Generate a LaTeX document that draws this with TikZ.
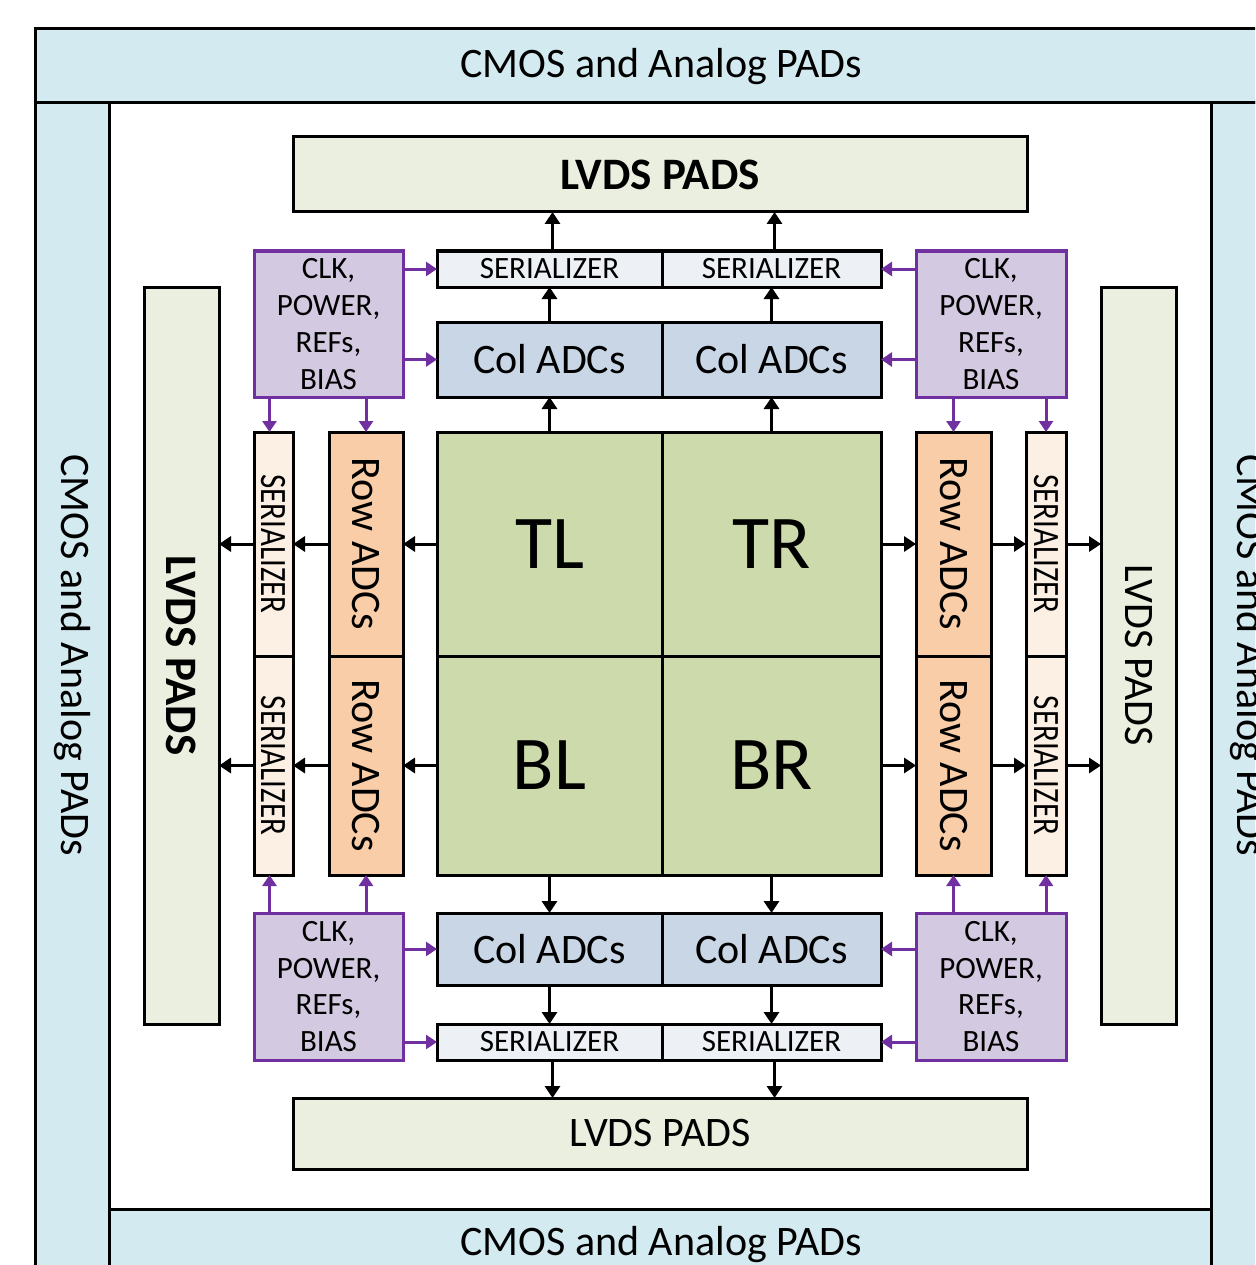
\documentclass[tikz,border=0pt]{standalone}
\usepackage{fontspec}
\setmainfont{Carlito}
\usetikzlibrary{arrows.meta}
\definecolor{cmosblue}{RGB}{210,234,240}
\definecolor{lvdsg}{RGB}{235,239,223}
\definecolor{clkfill}{RGB}{211,201,224}
\definecolor{purp}{RGB}{112,48,160}
\definecolor{serh}{RGB}{237,241,246}
\definecolor{colfill}{RGB}{200,214,229}
\definecolor{corefill}{RGB}{204,218,172}
\definecolor{rowfill}{RGB}{248,205,168}
\definecolor{serv}{RGB}{252,239,228}
\tikzset{
  box/.style={draw=black, line width=3pt, inner sep=0pt, outer sep=0pt, rectangle},
  clkbox/.style={draw=purp, fill=clkfill, line width=3pt, inner sep=0pt, outer sep=0pt, rectangle,
    minimum height=146, align=center, font={\fontsize{31}{36.7}\selectfont}},
  arr/.style={line width=3pt, draw=black, -{Triangle[width=15pt,length=12pt]}},
  parr/.style={line width=3pt, draw=purp, -{Triangle[width=14pt,length=11pt]}},
  f31/.style={font={\fontsize{31}{36}\selectfont}},
  f42/.style={font={\fontsize{42}{50}\selectfont}},
  f45b/.style={font={\fontsize{45}{54}\selectfont\bfseries}},
  f76/.style={font={\fontsize{76}{90}\selectfont}},
  sertxt/.style={font={\fontsize{31}{36}\selectfont}},
}
\newcommand{\vser}{\scalebox{1}[1.2]{SERIALIZER}}
\begin{document}
\begin{tikzpicture}[x=1pt,y=-1pt]
\useasboundingbox (0,0) rectangle (1255,1265);
\clip (0,0) rectangle (1255,1265);
\fill[white] (0,0) rectangle (1255,1265);
% outer CMOS bands
\node[box, fill=cmosblue, minimum width=1255, minimum height=74] (cmosT) at (662.5,66) {};
\node[box, fill=cmosblue, minimum width=74, minimum height=1187] (cmosL) at (72,696.5) {};
\node[box, fill=cmosblue, minimum width=79, minimum height=1187] (cmosR) at (1250.5,696.5) {};
\node[box, fill=cmosblue, minimum width=1102, minimum height=81] (cmosB) at (660,1249.5) {};
\node[f42] (tcmosT) at (661,67) {CMOS and Analog PADs};
\node[f42, rotate=-90] (tcmosL) at (72,655) {CMOS and Analog PADs};
\node[f42, rotate=-90] (tcmosR) at (1248,655) {CMOS and Analog PADs};
\node[f42] (tcmosB) at (661,1245) {CMOS and Analog PADs};
% LVDS pads
\node[box, fill=lvdsg, minimum width=734, minimum height=75, f45b] (lvdsT) at (660,174.5) {LVDS PADS};
\node[box, fill=lvdsg, minimum width=734, minimum height=71, f42] (lvdsB) at (660,1133.5) {LVDS PADS};
\node[box, fill=lvdsg, minimum width=75, minimum height=737,
  label={[f45b, rotate=-90]center:LVDS PADS}] (lvdsL) at (181.5,655.5) {};
\node[box, fill=lvdsg, minimum width=75, minimum height=737,
  label={[f42, rotate=-90]center:LVDS PADS}] (lvdsR) at (1138.5,655.5) {};
% CLK boxes
\node[clkbox, minimum width=149] (clkTL) at (328.5,324) {CLK,\\POWER,\\REFs,\\BIAS};
\node[clkbox, minimum width=150] (clkTR) at (991,324) {CLK,\\POWER,\\REFs,\\BIAS};
\node[clkbox, minimum width=149, minimum height=147] (clkBL) at (328.5,986.5) {CLK,\\POWER,\\REFs,\\BIAS};
\node[clkbox, minimum width=150, minimum height=147] (clkBR) at (991,986.5) {CLK,\\POWER,\\REFs,\\BIAS};
% horizontal serializers
\node[box, fill=serh, minimum width=225, minimum height=36, f31] (serT1) at (549.5,269) {SERIALIZER};
\node[box, fill=serh, minimum width=219, minimum height=36, f31] (serT2) at (771.5,269) {SERIALIZER};
\node[box, fill=serh, minimum width=225, minimum height=36, f31] (serB1) at (549.5,1042) {SERIALIZER};
\node[box, fill=serh, minimum width=219, minimum height=36, f31] (serB2) at (771.5,1042) {SERIALIZER};
% col ADCs
\node[box, fill=colfill, minimum width=225, minimum height=75, f42] (colT1) at (549.5,359.5) {Col ADCs};
\node[box, fill=colfill, minimum width=219, minimum height=75, f42] (colT2) at (771.5,359.5) {Col ADCs};
\node[box, fill=colfill, minimum width=225, minimum height=72, f42] (colB1) at (549.5,949) {Col ADCs};
\node[box, fill=colfill, minimum width=219, minimum height=72, f42] (colB2) at (771.5,949) {Col ADCs};
% core
\node[box, fill=corefill, minimum width=225, minimum height=224, f76] (TL) at (549.5,544) {TL};
\node[box, fill=corefill, minimum width=219, minimum height=224, f76] (TR) at (771.5,544) {TR};
\node[box, fill=corefill, minimum width=225, minimum height=219, f76] (BL) at (549.5,765.5) {BL};
\node[box, fill=corefill, minimum width=219, minimum height=219, f76] (BR) at (771.5,765.5) {BR};
% row ADCs
\node[box, fill=rowfill, minimum width=74, minimum height=224,
  label={[f42, rotate=-90]center:Row ADCs}] (rowL1) at (366,544) {};
\node[box, fill=rowfill, minimum width=74, minimum height=219,
  label={[f42, rotate=-90]center:Row ADCs}] (rowL2) at (366,765.5) {};
\node[box, fill=rowfill, minimum width=75, minimum height=224,
  label={[f42, rotate=-90]center:Row ADCs}] (rowR1) at (953.5,544) {};
\node[box, fill=rowfill, minimum width=75, minimum height=219,
  label={[f42, rotate=-90]center:Row ADCs}] (rowR2) at (953.5,765.5) {};
% vertical serializers
\node[box, fill=serv, minimum width=39, minimum height=224,
  label={[sertxt, rotate=-90]center:\vser}] (serL1) at (273.5,544) {};
\node[box, fill=serv, minimum width=39, minimum height=219,
  label={[sertxt, rotate=-90]center:\vser}] (serL2) at (273.5,765.5) {};
\node[box, fill=serv, minimum width=40, minimum height=224,
  label={[sertxt, rotate=-90]center:\vser}] (serR1) at (1046,544) {};
\node[box, fill=serv, minimum width=40, minimum height=219,
  label={[sertxt, rotate=-90]center:\vser}] (serR2) at (1046,765.5) {};
% black arrows: top
\draw[arr] (TL.north) -- (colT1.south);
\draw[arr] (TR.north) -- (colT2.south);
\draw[arr] (colT1.north) -- (serT1.south);
\draw[arr] (colT2.north) -- (serT2.south);
\coordinate (st1) at ([xshift=3]serT1.north);
\coordinate (st2) at ([xshift=3]serT2.north);
\draw[arr] (st1) -- (st1 |- lvdsT.south);
\draw[arr] (st2) -- (st2 |- lvdsT.south);
% bottom
\draw[arr] (BL.south) -- (colB1.north);
\draw[arr] (BR.south) -- (colB2.north);
\draw[arr] (colB1.south) -- (serB1.north);
\draw[arr] (colB2.south) -- (serB2.north);
\coordinate (sb1) at ([xshift=3]serB1.south);
\coordinate (sb2) at ([xshift=3]serB2.south);
\draw[arr] (sb1) -- (sb1 |- lvdsB.north);
\draw[arr] (sb2) -- (sb2 |- lvdsB.north);
% left
\draw[arr] (TL.west) -- (rowL1.east);
\draw[arr] (BL.west) -- (rowL2.east);
\draw[arr] (rowL1.west) -- (serL1.east);
\draw[arr] (rowL2.west) -- (serL2.east);
\draw[arr] (serL1.west) -- (serL1.west -| lvdsL.east);
\draw[arr] (serL2.west) -- (serL2.west -| lvdsL.east);
% right
\draw[arr] (TR.east) -- (rowR1.west);
\draw[arr] (BR.east) -- (rowR2.west);
\draw[arr] (rowR1.east) -- (serR1.west);
\draw[arr] (rowR2.east) -- (serR2.west);
\draw[arr] (serR1.east) -- (serR1.east -| lvdsR.west);
\draw[arr] (serR2.east) -- (serR2.east -| lvdsR.west);
% purple arrows
\draw[parr] (clkTL.east |- serT1.west) -- (serT1.west);
\draw[parr] (clkTL.east |- colT1.west) -- (colT1.west);
\draw[parr] (clkTR.west |- serT2.east) -- (serT2.east);
\draw[parr] (clkTR.west |- colT2.east) -- (colT2.east);
\draw[parr] (clkBL.east |- colB1.west) -- (colB1.west);
\draw[parr] (clkBL.east |- serB1.west) -- (serB1.west);
\draw[parr] (clkBR.west |- colB2.east) -- (colB2.east);
\draw[parr] (clkBR.west |- serB2.east) -- (serB2.east);
\coordinate (pl1) at ([xshift=-4]serL1.north);
\coordinate (pl2) at ([xshift=-4]serL2.south);
\draw[parr] (pl1 |- clkTL.south) -- (pl1);
\draw[parr] (rowL1.north |- clkTL.south) -- (rowL1.north);
\draw[parr] (pl2 |- clkBL.north) -- (pl2);
\draw[parr] (rowL2.south |- clkBL.north) -- (rowL2.south);
\draw[parr] (rowR1.north |- clkTR.south) -- (rowR1.north);
\draw[parr] (serR1.north |- clkTR.south) -- (serR1.north);
\draw[parr] (rowR2.south |- clkBR.north) -- (rowR2.south);
\draw[parr] (serR2.south |- clkBR.north) -- (serR2.south);
\end{tikzpicture}
\end{document}
